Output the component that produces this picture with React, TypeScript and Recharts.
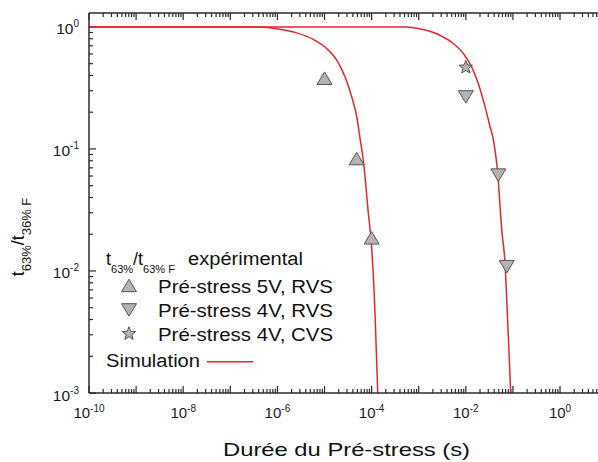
import React from 'react';
import { ComposedChart, Line, Scatter, XAxis, YAxis, Legend, ReferenceLine } from 'recharts';

const FONT = 'Arial, "Liberation Sans", Helvetica, sans-serif';
const AXIS_COLOR = '#2b2b2b';
const SIM_COLOR = '#e3262f';
const MARK_FILL = '#b3b3b3';
const MARK_STROKE = '#555555';

// axis ticks
const xDecades = [-10, -9, -8, -7, -6, -5, -4, -3, -2, -1, 0];
const xLabelExps = [-10, -8, -6, -4, -2, 0];
const xMin = 1e-10;
const xMax = 6.4;
const yDecades = [-3, -2, -1, 0];
const yMin = 1e-3;
const yMax = 1.3;
const minorSteps = [2, 3, 4, 5, 6, 7, 8, 9];

// simulation curves
const sim5VX = [1e-10, 1e-7, 3.6e-7, 1.14e-6, 2.57e-6, 5.78e-6, 1.11e-5, 1.82e-5, 2.72e-5, 3.78e-5, 4.83e-5, 5.68e-5, 6.67e-5, 8.51e-5, 1.0e-4, 1.18e-4, 1.35e-4];
const sim5VY = [1, 1, 1, 0.957, 0.893, 0.789, 0.666, 0.535, 0.39, 0.268, 0.184, 0.122, 0.0805, 0.0298, 0.0159, 0.00456, 0.001];
const sim4VX = [1e-10, 1e-4, 5.56e-4, 1.25e-3, 2.83e-3, 5.43e-3, 8.85e-3, 1.33e-2, 1.84e-2, 2.56e-2, 3.27e-2, 3.84e-2, 4.75e-2, 5.78e-2, 6.79e-2, 7.6e-2, 8.97e-2];
const sim4VY = [1, 1, 1, 0.952, 0.855, 0.731, 0.606, 0.471, 0.344, 0.222, 0.152, 0.119, 0.0633, 0.0218, 0.0116, 0.00453, 0.001];

// experimental points
const rvs5VX = [1e-5, 4.8e-5, 1e-4];
const rvs5VY = [0.378, 0.083, 0.0186];
const rvs4VX = [1e-2, 4.9e-2, 7.4e-2];
const rvs4VY = [0.268, 0.0613, 0.0109];
const cvs4VX = [1e-2];
const cvs4VY = [0.466];

const legendTitle = { main: 't', sub1: '63%', mid: '/t', sub2: '63% F', tail: 'expérimental' };
const legendRows = ['Pré-stress 5V, RVS', 'Pré-stress 4V, RVS', 'Pré-stress 4V, CVS'];
const simLabel = 'Simulation';
const xTitle = 'Durée du Pré-stress (s)';

const zip = (xs: number[], ys: number[]) => xs.map((x, i) => ({ x, y: ys[i] }));
const sim5V = zip(sim5VX, sim5VY);
const sim4V = zip(sim4VX, sim4VY);
const rvs5V = zip(rvs5VX, rvs5VY);
const rvs4V = zip(rvs4VX, rvs4VY);
const cvs4V = zip(cvs4VX, cvs4VY);

const logTicks = (decades: number[], max: number) =>
  decades
    .flatMap((e) => [Math.pow(10, e), ...minorSteps.map((m) => m * Math.pow(10, e))])
    .filter((v) => v <= max * 1.0001);

const xTicks = logTicks(xDecades, xMax);
const yTicks = logTicks(yDecades, yMax);

const decadeOf = (v: number) => {
  const e = Math.log10(v);
  const r = Math.round(e);
  return Math.abs(e - r) < 1e-6 ? r : null;
};

// inward tick lengths as ratios on the log axes (~7px major, ~4px minor)
const yTickRatio = (major: boolean) => Math.pow(10, (major ? 7 : 4) / 122.1);
const xTickRatio = (major: boolean) => Math.pow(10, (major ? 7 : 4) / 47.1);

const BottomTick = (props: any) => {
  const { x, y, payload } = props;
  const exp = decadeOf(payload.value);
  if (exp === null || !xLabelExps.includes(exp)) return <g />;
  return (
    <text x={x} y={y + 25} textAnchor="middle" fontFamily={FONT} fontSize={15} fill="#1a1a1a">
      <tspan>10</tspan>
      <tspan dy={-6} fontSize={10}>{exp}</tspan>
    </text>
  );
};

const LeftTick = (props: any) => {
  const { x, y, payload } = props;
  const exp = decadeOf(payload.value);
  if (exp === null) return <g />;
  return (
    <text x={x - 10} y={y + 7.5} textAnchor="end" fontFamily={FONT} fontSize={15.5} fill="#1a1a1a">
      <tspan>10</tspan>
      <tspan dy={-7} fontSize={10}>{exp}</tspan>
    </text>
  );
};

const UpTriangle = ({ cx, cy }: any) => (
  <path
    d={`M${cx},${cy - 6.5} L${cx + 7.5},${cy + 6} L${cx - 7.5},${cy + 6} Z`}
    fill={MARK_FILL}
    stroke={MARK_STROKE}
    strokeWidth={1}
  />
);

const DownTriangle = ({ cx, cy }: any) => (
  <path
    d={`M${cx - 7.5},${cy - 6} L${cx + 7.5},${cy - 6} L${cx},${cy + 6.5} Z`}
    fill={MARK_FILL}
    stroke={MARK_STROKE}
    strokeWidth={1}
  />
);

const Star = ({ cx, cy }: any) => {
  const pts: string[] = [];
  for (let i = 0; i < 10; i++) {
    const r = i % 2 === 0 ? 7 : 3;
    const a = -Math.PI / 2 + (i * Math.PI) / 5;
    pts.push(`${cx + r * Math.cos(a)},${cy + r * Math.sin(a)}`);
  }
  return <polygon points={pts.join(' ')} fill={MARK_FILL} stroke={MARK_STROKE} strokeWidth={1} />;
};

const YTitle = () => (
  <text
    x={24}
    y={237}
    transform="rotate(-90 24 237)"
    textAnchor="middle"
    fontFamily={FONT}
    fontSize={18}
    fill="#111"
  >
    <tspan>t</tspan>
    <tspan dy={7} fontSize={13}>63%</tspan>
    <tspan dy={-7}>/t</tspan>
    <tspan dy={7} fontSize={13}>36% F</tspan>
  </text>
);

const XTitle = () => (
  <text x={223} y={456} textLength={247} lengthAdjust="spacingAndGlyphs" fontFamily={FONT} fontSize={19} fill="#111">
    {xTitle}
  </text>
);

const LegendBox = () => {
  const rowY = [292.7, 316.7, 340.7];
  const markers = [UpTriangle, DownTriangle, Star];
  return (
    <svg width={598} height={462} style={{ overflow: 'visible' }}>
      <text x={106} y={265} fontFamily={FONT} fontSize={18} fill="#111">
        <tspan>{legendTitle.main}</tspan>
        <tspan dy={8} fontSize={11}>{legendTitle.sub1}</tspan>
        <tspan dy={-8}>{legendTitle.mid}</tspan>
        <tspan dy={8} fontSize={11}>{legendTitle.sub2}</tspan>
      </text>
      <text x={188} y={265} textLength={115} lengthAdjust="spacingAndGlyphs" fontFamily={FONT} fontSize={18} fill="#111">
        {legendTitle.tail}
      </text>
      {legendRows.map((label, i) => {
        const M = markers[i];
        return (
          <g key={label}>
            <M cx={129} cy={rowY[i] - 7} />
            <text
              x={158}
              y={rowY[i]}
              textLength={175}
              lengthAdjust="spacingAndGlyphs"
              fontFamily={FONT}
              fontSize={18}
              fill="#111"
            >
              {label}
            </text>
          </g>
        );
      })}
      <text x={106} y={366.7} textLength={94} lengthAdjust="spacingAndGlyphs" fontFamily={FONT} fontSize={18} fill="#111">
        {simLabel}
      </text>
      <line x1={207} y1={361.7} x2={253} y2={361.7} stroke={SIM_COLOR} strokeWidth={1.5} />
    </svg>
  );
};

export default function App() {
  return (
    <div style={{ position: 'absolute', left: 0, top: 0, background: '#fff' }}>
      <ComposedChart width={598} height={462} margin={{ top: 13, right: 0, bottom: 0, left: 0 }}>
        <XAxis
          xAxisId="bottom"
          dataKey="x"
          type="number"
          scale="log"
          domain={[xMin, xMax]}
          allowDataOverflow
          ticks={xTicks}
          interval={0}
          height={69}
          tickSize={0}
          tickMargin={0}
          tickLine={false}
          tick={BottomTick}
          axisLine={{ stroke: AXIS_COLOR, strokeWidth: 1.5 }}
          label={<XTitle />}
        />
        <YAxis
          type="number"
          scale="log"
          domain={[yMin, yMax]}
          allowDataOverflow
          ticks={yTicks}
          interval={0}
          width={89}
          tickSize={0}
          tickMargin={0}
          tickLine={false}
          tick={LeftTick}
          axisLine={{ stroke: AXIS_COLOR, strokeWidth: 1.5 }}
          label={<YTitle />}
        />
        {/* top frame line */}
        <ReferenceLine xAxisId="bottom" y={yMax} stroke={AXIS_COLOR} strokeWidth={1.5} ifOverflow="visible" />
        {/* inward ticks: bottom, top, left */}
        {xTicks.map((v) => (
          <ReferenceLine
            key={`b${v}`}
            xAxisId="bottom"
            segment={[{ x: v, y: yMin }, { x: v, y: yMin * yTickRatio(decadeOf(v) !== null) }]}
            stroke={AXIS_COLOR}
            strokeWidth={1.2}
            ifOverflow="visible"
          />
        ))}
        {xTicks.map((v) => (
          <ReferenceLine
            key={`t${v}`}
            xAxisId="bottom"
            segment={[{ x: v, y: yMax }, { x: v, y: yMax / yTickRatio(decadeOf(v) !== null) }]}
            stroke={AXIS_COLOR}
            strokeWidth={1.2}
            ifOverflow="visible"
          />
        ))}
        {yTicks.map((v) => (
          <ReferenceLine
            key={`l${v}`}
            xAxisId="bottom"
            segment={[{ x: xMin, y: v }, { x: xMin * xTickRatio(decadeOf(v) !== null), y: v }]}
            stroke={AXIS_COLOR}
            strokeWidth={1.2}
            ifOverflow="visible"
          />
        ))}
        <Legend
          layout="vertical"
          align="center"
          verticalAlign="middle"
          content={() => <LegendBox />}
          wrapperStyle={{ left: 0, top: 0, width: 598, height: 462, pointerEvents: 'none' }}
        />
        <Line
          xAxisId="bottom"
          data={sim5V}
          dataKey="y"
          type="monotone"
          stroke={SIM_COLOR}
          strokeWidth={1.5}
          dot={false}
          activeDot={false}
          isAnimationActive={false}
        />
        <Line
          xAxisId="bottom"
          data={sim4V}
          dataKey="y"
          type="monotone"
          stroke={SIM_COLOR}
          strokeWidth={1.5}
          dot={false}
          activeDot={false}
          isAnimationActive={false}
        />
        <Scatter xAxisId="bottom" data={rvs5V} dataKey="y" shape={UpTriangle} isAnimationActive={false} />
        <Scatter xAxisId="bottom" data={rvs4V} dataKey="y" shape={DownTriangle} isAnimationActive={false} />
        <Scatter xAxisId="bottom" data={cvs4V} dataKey="y" shape={Star} isAnimationActive={false} />
      </ComposedChart>
    </div>
  );
}
